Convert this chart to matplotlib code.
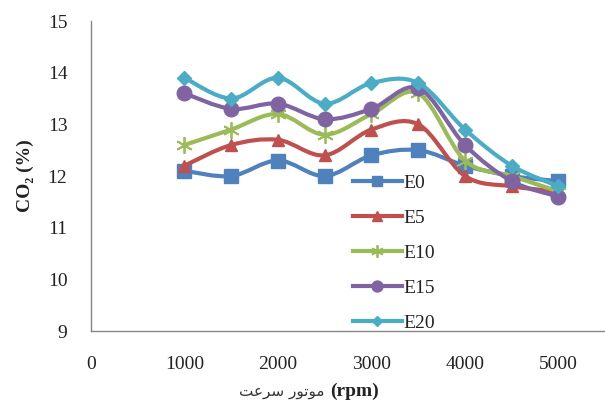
import matplotlib
matplotlib.use("Agg")
import numpy as np
import matplotlib.pyplot as plt
from matplotlib.path import Path
from matplotlib.patches import PathPatch
from matplotlib.lines import Line2D

# Data
rpm = [1000, 1500, 2000, 2500, 3000, 3500, 4000, 4500, 5000]
e0 = [12.1, 12.0, 12.3, 12.0, 12.4, 12.5, 12.2, 12.0, 11.9]
e5 = [12.2, 12.6, 12.7, 12.4, 12.9, 13.0, 12.0, 11.8, 11.7]
e10 = [12.6, 12.9, 13.2, 12.8, 13.2, 13.6, 12.3, 12.0, 11.7]
e15 = [13.6, 13.3, 13.4, 13.1, 13.3, 13.7, 12.6, 11.9, 11.6]
e20 = [13.9, 13.5, 13.9, 13.4, 13.8, 13.8, 12.9, 12.2, 11.8]
labels = ["E0", "E5", "E10", "E15", "E20"]
x_ticks = [0, 1000, 2000, 3000, 4000, 5000]
y_ticks = [9, 10, 11, 12, 13, 14, 15]

series = [e0, e5, e10, e15, e20]
colors = ["#4F81BD", "#C0504D", "#9BBB59", "#8064A2", "#4BACC6"]
markers = ["s", "^", (6, 2, 0), "o", "D"]
msizes = [9.5, 9, 12, 10.5, 7]

SERIF = ["Liberation Serif", "DejaVu Serif"]


def smooth_path(xs, ys):
    # Catmull-Rom style bezier through the points (like Excel "smoothed line")
    p = np.column_stack([xs, ys]).astype(float)
    verts = [p[0]]
    codes = [Path.MOVETO]
    n = len(p)
    for i in range(n - 1):
        p0 = p[i - 1] if i > 0 else p[i]
        p3 = p[i + 2] if i + 2 < n else p[i + 1]
        c1 = p[i] + (p[i + 1] - p0) / 6.0
        c2 = p[i + 1] - (p3 - p[i]) / 6.0
        verts += [c1, c2, p[i + 1]]
        codes += [Path.CURVE4] * 3
    return Path(verts, codes)


fig = plt.figure(figsize=(6.05, 4.19), dpi=100)
ax = fig.add_axes([91 / 605, 88 / 419, 561 / 605, 310 / 419])

handles = []
for k, ys in enumerate(series):
    patch = PathPatch(smooth_path(rpm, ys), fill=False, edgecolor=colors[k],
                      lw=3, capstyle="round", joinstyle="round", zorder=2 + k)
    ax.add_patch(patch)
    mew = 1.3 if k == 2 else 1
    ax.plot(rpm, ys, linestyle="none", marker=markers[k], ms=msizes[k],
            color=colors[k], mec=colors[k], mew=mew, zorder=2.5 + k)
    handles.append(Line2D([], [], color=colors[k], lw=3, marker=markers[k],
                          ms=msizes[k] * 0.75, mec=colors[k], mew=mew))

ax.set_xlim(0, 6000)
ax.set_ylim(9, 15)
ax.set_xticks(x_ticks)
ax.set_yticks(y_ticks)
ax.tick_params(length=0, labelsize=14, colors="#222222")
ax.tick_params(axis="x", pad=18)
ax.tick_params(axis="y", pad=17)
for lab in ax.get_xticklabels() + ax.get_yticklabels():
    lab.set_family(SERIF)

for side in ["top", "right"]:
    ax.spines[side].set_visible(False)
for side in ["left", "bottom"]:
    ax.spines[side].set_color("#868686")
    ax.spines[side].set_linewidth(1)

ax.set_ylabel("CO\u2082 (%)", family=SERIF, fontsize=14, fontweight="bold",
              color="#222222", labelpad=10)

# x label: Persian text (pre-shaped, visual order) + bold (rpm)
fig.text(0.545, 0.065, "\uFE96\uFECB\uFEAE\uFEB3 \uFEAD\uFEEE\uFE97\uFEEE\uFEE3 ",
         family=["DejaVu Sans"], fontsize=11, color="#333333",
         ha="right", va="center")
fig.text(0.545, 0.065, "(rpm)", family=SERIF, fontsize=14, fontweight="bold",
         color="#222222", ha="left", va="center")

leg = fig.legend(handles, labels, loc="upper left",
                 bbox_to_anchor=(353 / 605, 1 - 174 / 419),
                 bbox_transform=fig.transFigure, frameon=False,
                 prop={"family": SERIF, "size": 14}, handlelength=2.5,
                 handletextpad=0.1, labelspacing=0.9, borderpad=0,
                 borderaxespad=0)
for t in leg.get_texts():
    t.set_color("#222222")

fig.savefig("out.png", dpi=100, facecolor="white")
